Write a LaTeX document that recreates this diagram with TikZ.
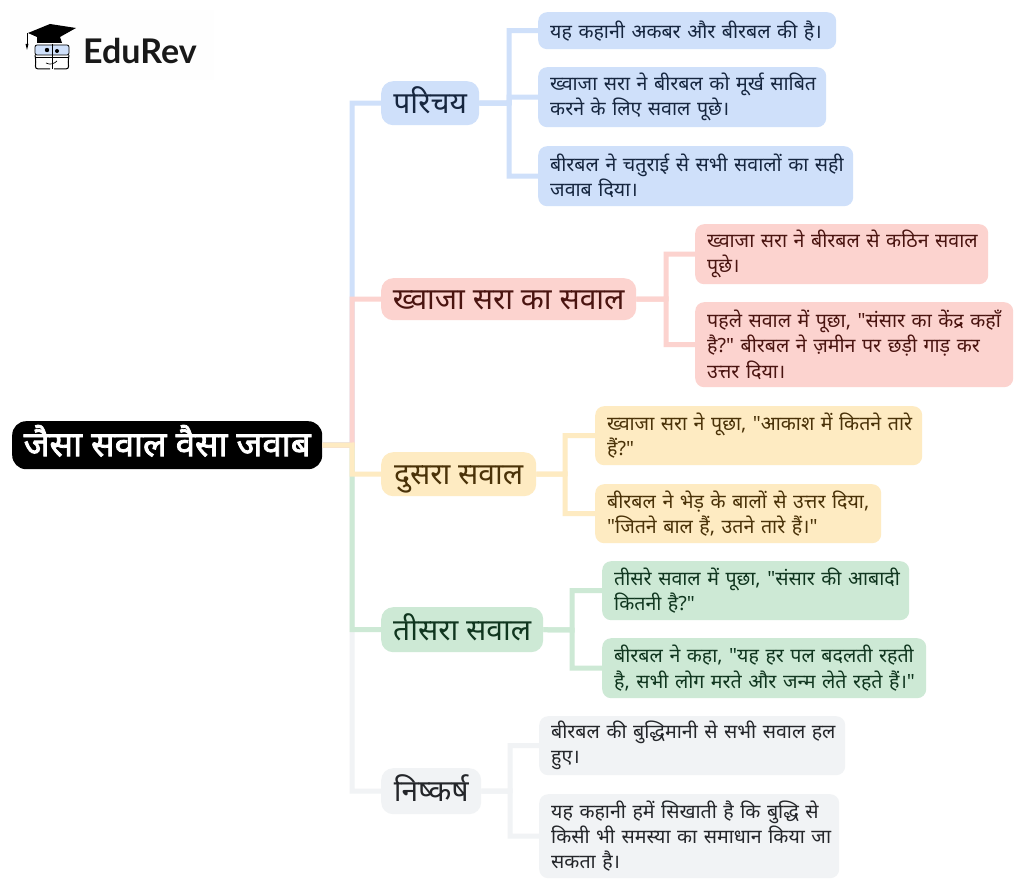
\documentclass[tikz,border=0pt]{standalone}
\usepackage{fontspec}
\newfontfamily\devafont[Script=Devanagari]{Noto Sans}
\newfontfamily\rootfont[Script=Devanagari,FakeBold=2.2]{Noto Sans}
\newfontfamily\logofont{Lato}
\definecolor{cblue}{HTML}{CFE0FA}
\definecolor{cred}{HTML}{FCD3CF}
\definecolor{cyel}{HTML}{FEEBC2}
\definecolor{cgrn}{HTML}{CDE9D5}
\definecolor{cgry}{HTML}{F1F3F5}
\definecolor{tblue}{HTML}{16263F}
\definecolor{tred}{HTML}{4A1410}
\definecolor{tyel}{HTML}{4A3208}
\definecolor{tgrn}{HTML}{10361F}
\definecolor{tgry}{HTML}{24262A}
\tikzset{
  rootbox/.style={fill=black,text=white,rounded corners=14pt,inner sep=0pt,anchor=north west,text height=30pt,text depth=8pt,font=\rootfont\fontsize{34.8}{38}\selectfont},
  branch/.style n args={4}{fill=#3,text=#4,rounded corners=12pt,inner sep=0pt,anchor=north west,minimum width=#1pt,minimum height=#2pt,text height=27pt,text depth=6pt,font=\devafont\fontsize{30}{34}\selectfont},
  leaf/.style n args={4}{fill=#3,text=#4,rounded corners=9pt,inner xsep=1pt,inner ysep=0pt,anchor=north west,text width=#1pt-2pt,minimum height=#2pt,align=left,font=\devafont\fontsize{19.6}{25.2}\selectfont,execute at begin node={\leftskip=11pt\relax}},
  conn/.style={draw=#1,line width=5pt,line join=miter}
}
\begin{document}
\begin{tikzpicture}[x=1pt,y=-1pt]
\useasboundingbox (0,0) rectangle (1024,890);
\fill[white] (0,0) rectangle (1024,890);
% logo
\fill[white!99.5!black] (10,10) rectangle (214,80);
\fill[black] (28,33) -- (50,24) -- (76,28) -- (60,37) -- (62,43) -- (37,43) -- (37,37) -- cycle;
\draw[black,line width=0.8pt] (27,33) -- (27,46);
\fill[black] (25.5,44) -- (28.5,44) -- (27,50) -- cycle;
\fill[cblue,draw=black,line width=0.8pt,rounded corners=2pt] (35,45) rectangle (69,55);
\draw[black,line width=1pt,rounded corners=3pt] (35,55) -- (36,62) -- (35,69) -- (50,69);
\draw[black,line width=1pt,rounded corners=3pt] (69,55) -- (68,62) -- (69,69) -- (54,69);
\draw[black,line width=1pt] (52,44) -- (52,69) (36,58) -- (68,58);
\draw[black,line width=0.7pt] (46,63) .. controls (50,65) and (54,64) .. (57,61);
\fill[black] (47,50) circle (2.2pt) (57,51) circle (2pt);
\node[inner sep=0pt,anchor=west,font=\logofont\bfseries\fontsize{34}{36}\selectfont,text=black!90] (logo) at (83,51) {EduRev};
% nodes
\node[rootbox,minimum width=310pt,minimum height=48pt] (root) at (12,421) {जैसा सवाल वैसा जवाब};
\node[branch={98}{44}{cblue}{tblue}] (b1) at (381,81) {परिचय};
\node[branch={255}{42}{cred}{tred}] (b2) at (381,278) {ख्वाजा सरा का सवाल};
\node[branch={155}{44}{cyel}{tyel}] (b3) at (381,452) {दुसरा सवाल};
\node[branch={162}{45}{cgrn}{tgrn}] (b4) at (381,607) {तीसरा सवाल};
\node[branch={100}{46}{cgry}{tgry}] (b5) at (381,768) {निष्कर्ष};
\node[leaf={298}{37}{cblue}{tblue}] (l1) at (538,12) {यह कहानी अकबर और बीरबल की है।};
\node[leaf={288}{60}{cblue}{tblue}] (l2) at (538,67) {ख्वाजा सरा ने बीरबल को मूर्ख साबित\\करने के लिए सवाल पूछे।};
\node[leaf={315}{60}{cblue}{tblue}] (l3) at (538,146) {बीरबल ने चतुराई से सभी सवालों का सही\\जवाब दिया।};
\node[leaf={293}{60}{cred}{tred}] (l4) at (695,224) {ख्वाजा सरा ने बीरबल से कठिन सवाल\\पूछे।};
\node[leaf={318}{85}{cred}{tred}] (l5) at (695,302) {पहले सवाल में पूछा, "संसार का केंद्र कहाँ\\है?" बीरबल ने ज़मीन पर छड़ी गाड़ कर\\उत्तर दिया।};
\node[leaf={327}{59}{cyel}{tyel}] (l6) at (595,406) {ख्वाजा सरा ने पूछा, "आकाश में कितने तारे\\हैं?"};
\node[leaf={286}{59}{cyel}{tyel}] (l7) at (595,484) {बीरबल ने भेड़ के बालों से उत्तर दिया,\\"जितने बाल हैं, उतने तारे हैं।"};
\node[leaf={307}{59}{cgrn}{tgrn}] (l8) at (602,561) {तीसरे सवाल में पूछा, "संसार की आबादी\\कितनी है?"};
\node[leaf={324}{60}{cgrn}{tgrn}] (l9) at (602,638) {बीरबल ने कहा, "यह हर पल बदलती रहती\\है, सभी लोग मरते और जन्म लेते रहते हैं।"};
\node[leaf={306}{59}{cgry}{tgry}] (l10) at (539,716) {बीरबल की बुद्धिमानी से सभी सवाल हल\\हुए।};
\node[leaf={300}{84}{cgry}{tgry}] (l11) at (539,794) {यह कहानी हमें सिखाती है कि बुद्धि से\\किसी भी समस्या का समाधान किया जा\\सकता है।};
% connectors
\coordinate (t1) at (352,445);
\coordinate (tb1) at (509,103);
\coordinate (tb2) at (666,299);
\coordinate (tb3) at (565,474);
\coordinate (tb4) at (572,630);
\coordinate (tb5) at (510,791);
\draw[conn=cgry] (root.east) -- (t1) |- (b5.west);
\draw[conn=cgrn] (root.east) -- (t1) |- (b4.west);
\draw[conn=cblue] (root.east) -- (t1) |- (b1.west);
\draw[conn=cred] (root.east) -- (t1) |- (b2.west);
\draw[conn=cyel] (root.east) -- (t1) |- (b3.west);
\draw[conn=cblue] (b1.east) -- (tb1) |- (l1.west);
\draw[conn=cblue] (b1.east) -- (tb1) |- (l2.west);
\draw[conn=cblue] (b1.east) -- (tb1) |- (l3.west);
\draw[conn=cred] (b2.east) -- (tb2) |- (l4.west);
\draw[conn=cred] (b2.east) -- (tb2) |- (l5.west);
\draw[conn=cyel] (b3.east) -- (tb3) |- (l6.west);
\draw[conn=cyel] (b3.east) -- (tb3) |- (l7.west);
\draw[conn=cgrn] (b4.east) -- (tb4) |- (l8.west);
\draw[conn=cgrn] (b4.east) -- (tb4) |- (l9.west);
\draw[conn=cgry] (b5.east) -- (tb5) |- (l10.west);
\draw[conn=cgry] (b5.east) -- (tb5) |- (l11.west);
\end{tikzpicture}
\end{document}
